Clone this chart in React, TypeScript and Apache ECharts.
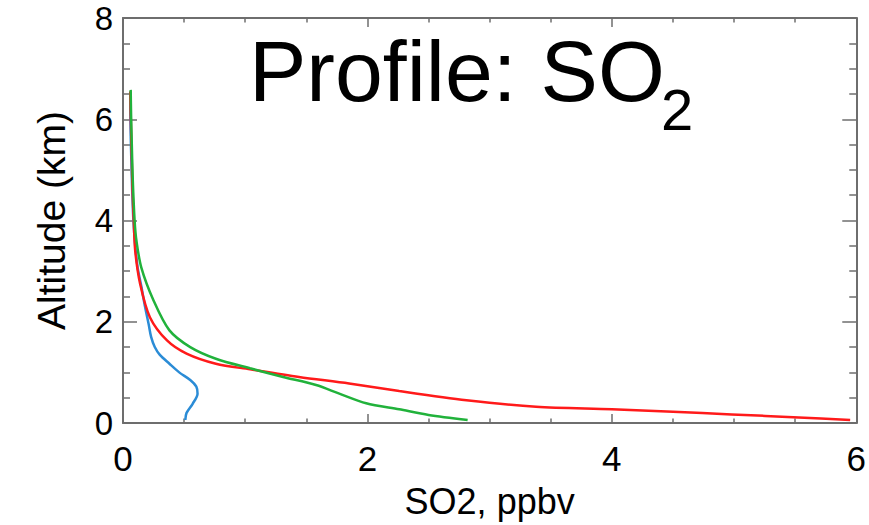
import React, { useEffect, useRef } from "react";
import * as echarts from "echarts";

const xTicks = [0, 2, 4, 6];
const yTicks = [0, 2, 4, 6, 8];

const blueX = [0.51, 0.52, 0.57, 0.61, 0.6, 0.55, 0.46, 0.38, 0.3, 0.26, 0.23, 0.21, 0.18, 0.15, 0.12, 0.1, 0.085, 0.075, 0.068, 0.062, 0.06, 0.06];
const blueY = [0.06, 0.2, 0.38, 0.58, 0.72, 0.85, 1.0, 1.17, 1.35, 1.5, 1.7, 1.95, 2.3, 2.7, 3.07, 3.5, 4.0, 4.6, 5.2, 5.8, 6.2, 6.55];

const redX = [5.95, 5.53, 4.98, 4.5, 4.0, 3.38, 2.81, 2.26, 1.85, 1.44, 1.04, 0.76, 0.52, 0.36, 0.22, 0.14, 0.1, 0.088, 0.078, 0.072, 0.066, 0.062, 0.06];
const redY = [0.06, 0.11, 0.17, 0.22, 0.27, 0.32, 0.45, 0.63, 0.78, 0.91, 1.06, 1.17, 1.37, 1.63, 2.09, 2.75, 3.4, 4.0, 4.6, 5.2, 5.8, 6.2, 6.55];

const greenX = [2.82, 2.5, 2.26, 1.99, 1.77, 1.58, 1.31, 1.04, 0.76, 0.55, 0.38, 0.25, 0.15, 0.11, 0.095, 0.08, 0.072, 0.066, 0.063];
const greenY = [0.06, 0.16, 0.27, 0.39, 0.58, 0.75, 0.91, 1.08, 1.27, 1.5, 1.83, 2.42, 3.07, 3.6, 4.0, 4.8, 5.5, 6.1, 6.58];

const FONT = "'Liberation Sans', Arial, Helvetica, sans-serif";
const AXIS_COLOR = "#6e6e6e";

const zip = (xs: number[], ys: number[]) => xs.map((x, i) => [x, ys[i]]);

export default function App() {
  const ref = useRef<HTMLDivElement>(null);
  useEffect(() => {
    if (!ref.current) return;
    const chart = echarts.init(ref.current, null, { renderer: "svg" });
    const xBase = {
      type: "value" as const,
      min: xTicks[0],
      max: xTicks[xTicks.length - 1],
      interval: xTicks[1] - xTicks[0],
      splitLine: { show: false },
      axisLine: { show: true, onZero: false, lineStyle: { color: AXIS_COLOR, width: 2 } },
      axisTick: { show: true, inside: true, length: 9, lineStyle: { color: AXIS_COLOR, width: 1.5 } },
      minorTick: { show: true, splitNumber: 4, length: 4.5, lineStyle: { color: AXIS_COLOR, width: 1.5 } },
    };
    const yBase = {
      type: "value" as const,
      min: yTicks[0],
      max: yTicks[yTicks.length - 1],
      interval: yTicks[1] - yTicks[0],
      splitLine: { show: false },
      axisLine: { show: true, onZero: false, lineStyle: { color: AXIS_COLOR, width: 2 } },
      axisTick: { show: true, inside: true, length: 14, lineStyle: { color: AXIS_COLOR, width: 1.5 } },
      minorTick: { show: true, splitNumber: 4, length: 7, lineStyle: { color: AXIS_COLOR, width: 1.5 } },
    };
    chart.setOption({
      animation: false,
      backgroundColor: "#ffffff",
      grid: { left: 123, top: 16, right: 11, bottom: 102, containLabel: false },
      xAxis: [
        {
          ...xBase,
          position: "bottom",
          name: "SO2, ppbv",
          nameLocation: "middle",
          nameGap: 60,
          nameTextStyle: { fontFamily: FONT, fontSize: 36, color: "#000" },
          axisLabel: { show: true, margin: 18, fontFamily: FONT, fontSize: 35, color: "#000" },
        },
        { ...xBase, position: "top", axisLabel: { show: false } },
      ],
      yAxis: [
        {
          ...yBase,
          position: "left",
          name: "Altitude (km)",
          nameLocation: "middle",
          nameRotate: 90,
          nameGap: 52,
          nameTextStyle: { fontFamily: FONT, fontSize: 39, color: "#000" },
          axisLabel: {
            show: true,
            margin: 10,
            fontFamily: FONT,
            fontSize: 33,
            lineHeight: 26,
            padding: [10, 0, 0, 0],
            color: "#000",
          },
        },
        { ...yBase, position: "right", axisLabel: { show: false } },
      ],
      graphic: [
        {
          type: "text",
          x: 249,
          y: 71,
          style: { text: "Profile: SO", font: `86px ${FONT}`, fill: "#000", verticalAlign: "middle", align: "left" },
        },
        {
          type: "text",
          x: 661,
          y: 109,
          style: { text: "2", font: `58px ${FONT}`, fill: "#000", verticalAlign: "middle", align: "left" },
        },
      ],
      series: [
        {
          type: "line",
          data: zip(blueX, blueY),
          showSymbol: false,
          smooth: 0.3,
          lineStyle: { color: "#2b8cd6", width: 2.5 },
          z: 2,
        },
        {
          type: "line",
          data: zip(redX, redY),
          showSymbol: false,
          smooth: 0.3,
          lineStyle: { color: "#ff1a1a", width: 2.5 },
          z: 3,
        },
        {
          type: "line",
          data: zip(greenX, greenY),
          showSymbol: false,
          smooth: 0.3,
          lineStyle: { color: "#21b23b", width: 2.5 },
          z: 4,
        },
      ],
    });
    return () => chart.dispose();
  }, []);
  return <div ref={ref} style={{ position: "fixed", left: 0, top: 0, width: 869, height: 525 }} />;
}
